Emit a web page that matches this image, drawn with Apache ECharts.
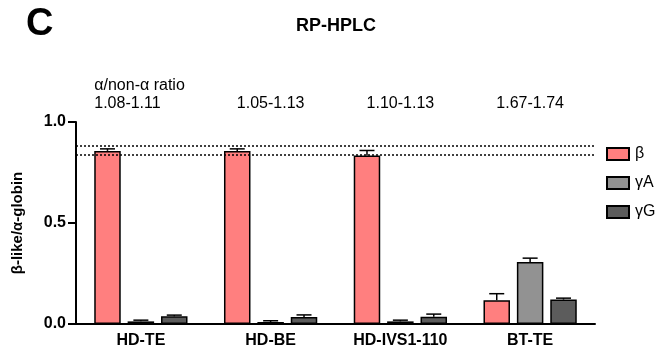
<!DOCTYPE html>
<html>
<head>
<meta charset="utf-8">
<script src="https://cdn.jsdelivr.net/npm/echarts@6/dist/echarts.min.js"></script>
<style>
html,body{margin:0;padding:0;background:#fff;}
#chart{width:662px;height:354px;}
</style>
</head>
<body>
<div id="chart"></div>
<script>
var categories = ['HD-TE', 'HD-BE', 'HD-IVS1-110', 'BT-TE'];
var seriesNames = ['β', 'γA', 'γG'];
var betaMean = [0.857, 0.857, 0.834, 0.118];
var betaErr = [0.010, 0.010, 0.025, 0.032];
var gammaAMean = [0.013, 0.010, 0.013, 0.307];
var gammaAErr = [0.006, 0.006, 0.006, 0.019];
var gammaGMean = [0.038, 0.035, 0.036, 0.121];
var gammaGErr = [0.006, 0.010, 0.013, 0.007];
var refLines = [0.878, 0.839];
var ratioLabels = ['1.08-1.11', '1.05-1.13', '1.10-1.13', '1.67-1.74'];
var ratioHeader = 'α/non-α ratio';
var yTicks = [0, 0.5, 1.0];

var FONT = '"Liberation Sans", Arial, Helvetica, sans-serif';
var colors = ['#FF7F7F', '#929292', '#5C5C5C'];
var means = [betaMean, gammaAMean, gammaGMean];
var errs = [betaErr, gammaAErr, gammaGErr];
var BAR_W = 26.5;
var BAR_GAP = 0.26;
var offsets = [-(BAR_W * (1 + BAR_GAP)), 0, BAR_W * (1 + BAR_GAP)];

var chart = echarts.init(document.getElementById('chart'), null, {renderer: 'canvas'});

var series = [];
seriesNames.forEach(function (name, i) {
  var s = {
    name: name,
    type: 'bar',
    data: means[i],
    barWidth: BAR_W,
    barGap: (BAR_GAP * 100) + '%',
    itemStyle: {color: colors[i], borderColor: '#000', borderWidth: 1.5},
    emphasis: {disabled: true},
    z: 2
  };
  if (i === 0) {
    s.markLine = {
      silent: true,
      symbol: ['none', 'none'],
      label: {show: false},
      lineStyle: {color: '#000', type: [2, 2], width: 1.5},
      data: refLines.map(function (v) { return {yAxis: v}; })
    };
  }
  series.push(s);
});

seriesNames.forEach(function (name, i) {
  var data = means[i].map(function (m, k) { return [k, m, m + errs[i][k]]; });
  series.push({
    type: 'custom',
    name: name + ' err',
    data: data,
    z: 5,
    silent: true,
    renderItem: function (params, api) {
      var c = api.value(0);
      var lo = api.coord([c, api.value(1)]);
      var hi = api.coord([c, api.value(2)]);
      var x = lo[0] + offsets[i];
      var cap = 7.5;
      return {
        type: 'group',
        children: [
          {type: 'line', shape: {x1: x, y1: lo[1], x2: x, y2: hi[1]}, style: {stroke: '#000', lineWidth: 1.5}},
          {type: 'line', shape: {x1: x - cap, y1: hi[1], x2: x + cap, y2: hi[1]}, style: {stroke: '#000', lineWidth: 1.5}}
        ]
      };
    }
  });
});

var option = {
  animation: false,
  backgroundColor: '#fff',
  textStyle: {fontFamily: FONT},
  title: [
    {text: 'C', left: 21, top: 1, textStyle: {fontFamily: FONT, fontSize: 38, fontWeight: 'bold', color: '#000'}},
    {text: 'RP-HPLC', left: 291, top: 12, textStyle: {fontFamily: FONT, fontSize: 18, fontWeight: 'bold', color: '#000'}}
  ],
  legend: {
    data: seriesNames,
    orient: 'vertical',
    left: 606,
    top: 146,
    padding: 0,
    itemWidth: 22,
    itemHeight: 12,
    itemGap: 13,
    icon: 'rect',
    textStyle: {fontFamily: FONT, fontSize: 16, color: '#000', padding: [0, 0, 0, 1]},
    selectedMode: false
  },
  grid: {left: 76, right: 67, top: 122, bottom: 30, containLabel: false},
  xAxis: {
    type: 'category',
    data: categories,
    axisLine: {lineStyle: {color: '#000', width: 2}},
    axisTick: {alignWithLabel: true, length: 7, lineStyle: {color: '#000', width: 2}},
    axisLabel: {fontFamily: FONT, fontSize: 16, fontWeight: 'bold', color: '#000', margin: 9},
    splitLine: {show: false}
  },
  yAxis: {
    type: 'value',
    min: 0,
    max: 1,
    interval: 0.5,
    name: 'β-like/α-globin',
    nameLocation: 'middle',
    nameGap: 51,
    nameTextStyle: {fontFamily: FONT, fontSize: 15, fontWeight: 'bold', color: '#000'},
    axisLine: {show: true, lineStyle: {color: '#000', width: 2}},
    axisTick: {show: true, length: 8, lineStyle: {color: '#000', width: 2}},
    axisLabel: {
      fontFamily: FONT, fontSize: 16, fontWeight: 'bold', color: '#000', margin: 10,
      formatter: function (v) { return yTicks.indexOf(v) >= 0 ? v.toFixed(1) : ''; }
    },
    splitLine: {show: false}
  },
  series: series
};
chart.setOption(option);

var graphics = [];
var x0 = chart.convertToPixel({xAxisIndex: 0}, 0) + offsets[0] - BAR_W / 2;
graphics.push({type: 'text', left: x0, top: 78, style: {text: ratioHeader, font: '16px ' + FONT, fill: '#000'}});
ratioLabels.forEach(function (t, k) {
  var cx = chart.convertToPixel({xAxisIndex: 0}, k);
  if (k === 0) {
    graphics.push({type: 'text', x: x0, y: 96, style: {text: t, font: '16px ' + FONT, fill: '#000', textAlign: 'left'}});
  } else {
    graphics.push({type: 'text', x: cx, y: 96, style: {text: t, font: '16px ' + FONT, fill: '#000', textAlign: 'center'}});
  }
});
chart.setOption({graphic: graphics});
</script>
</body>
</html>
